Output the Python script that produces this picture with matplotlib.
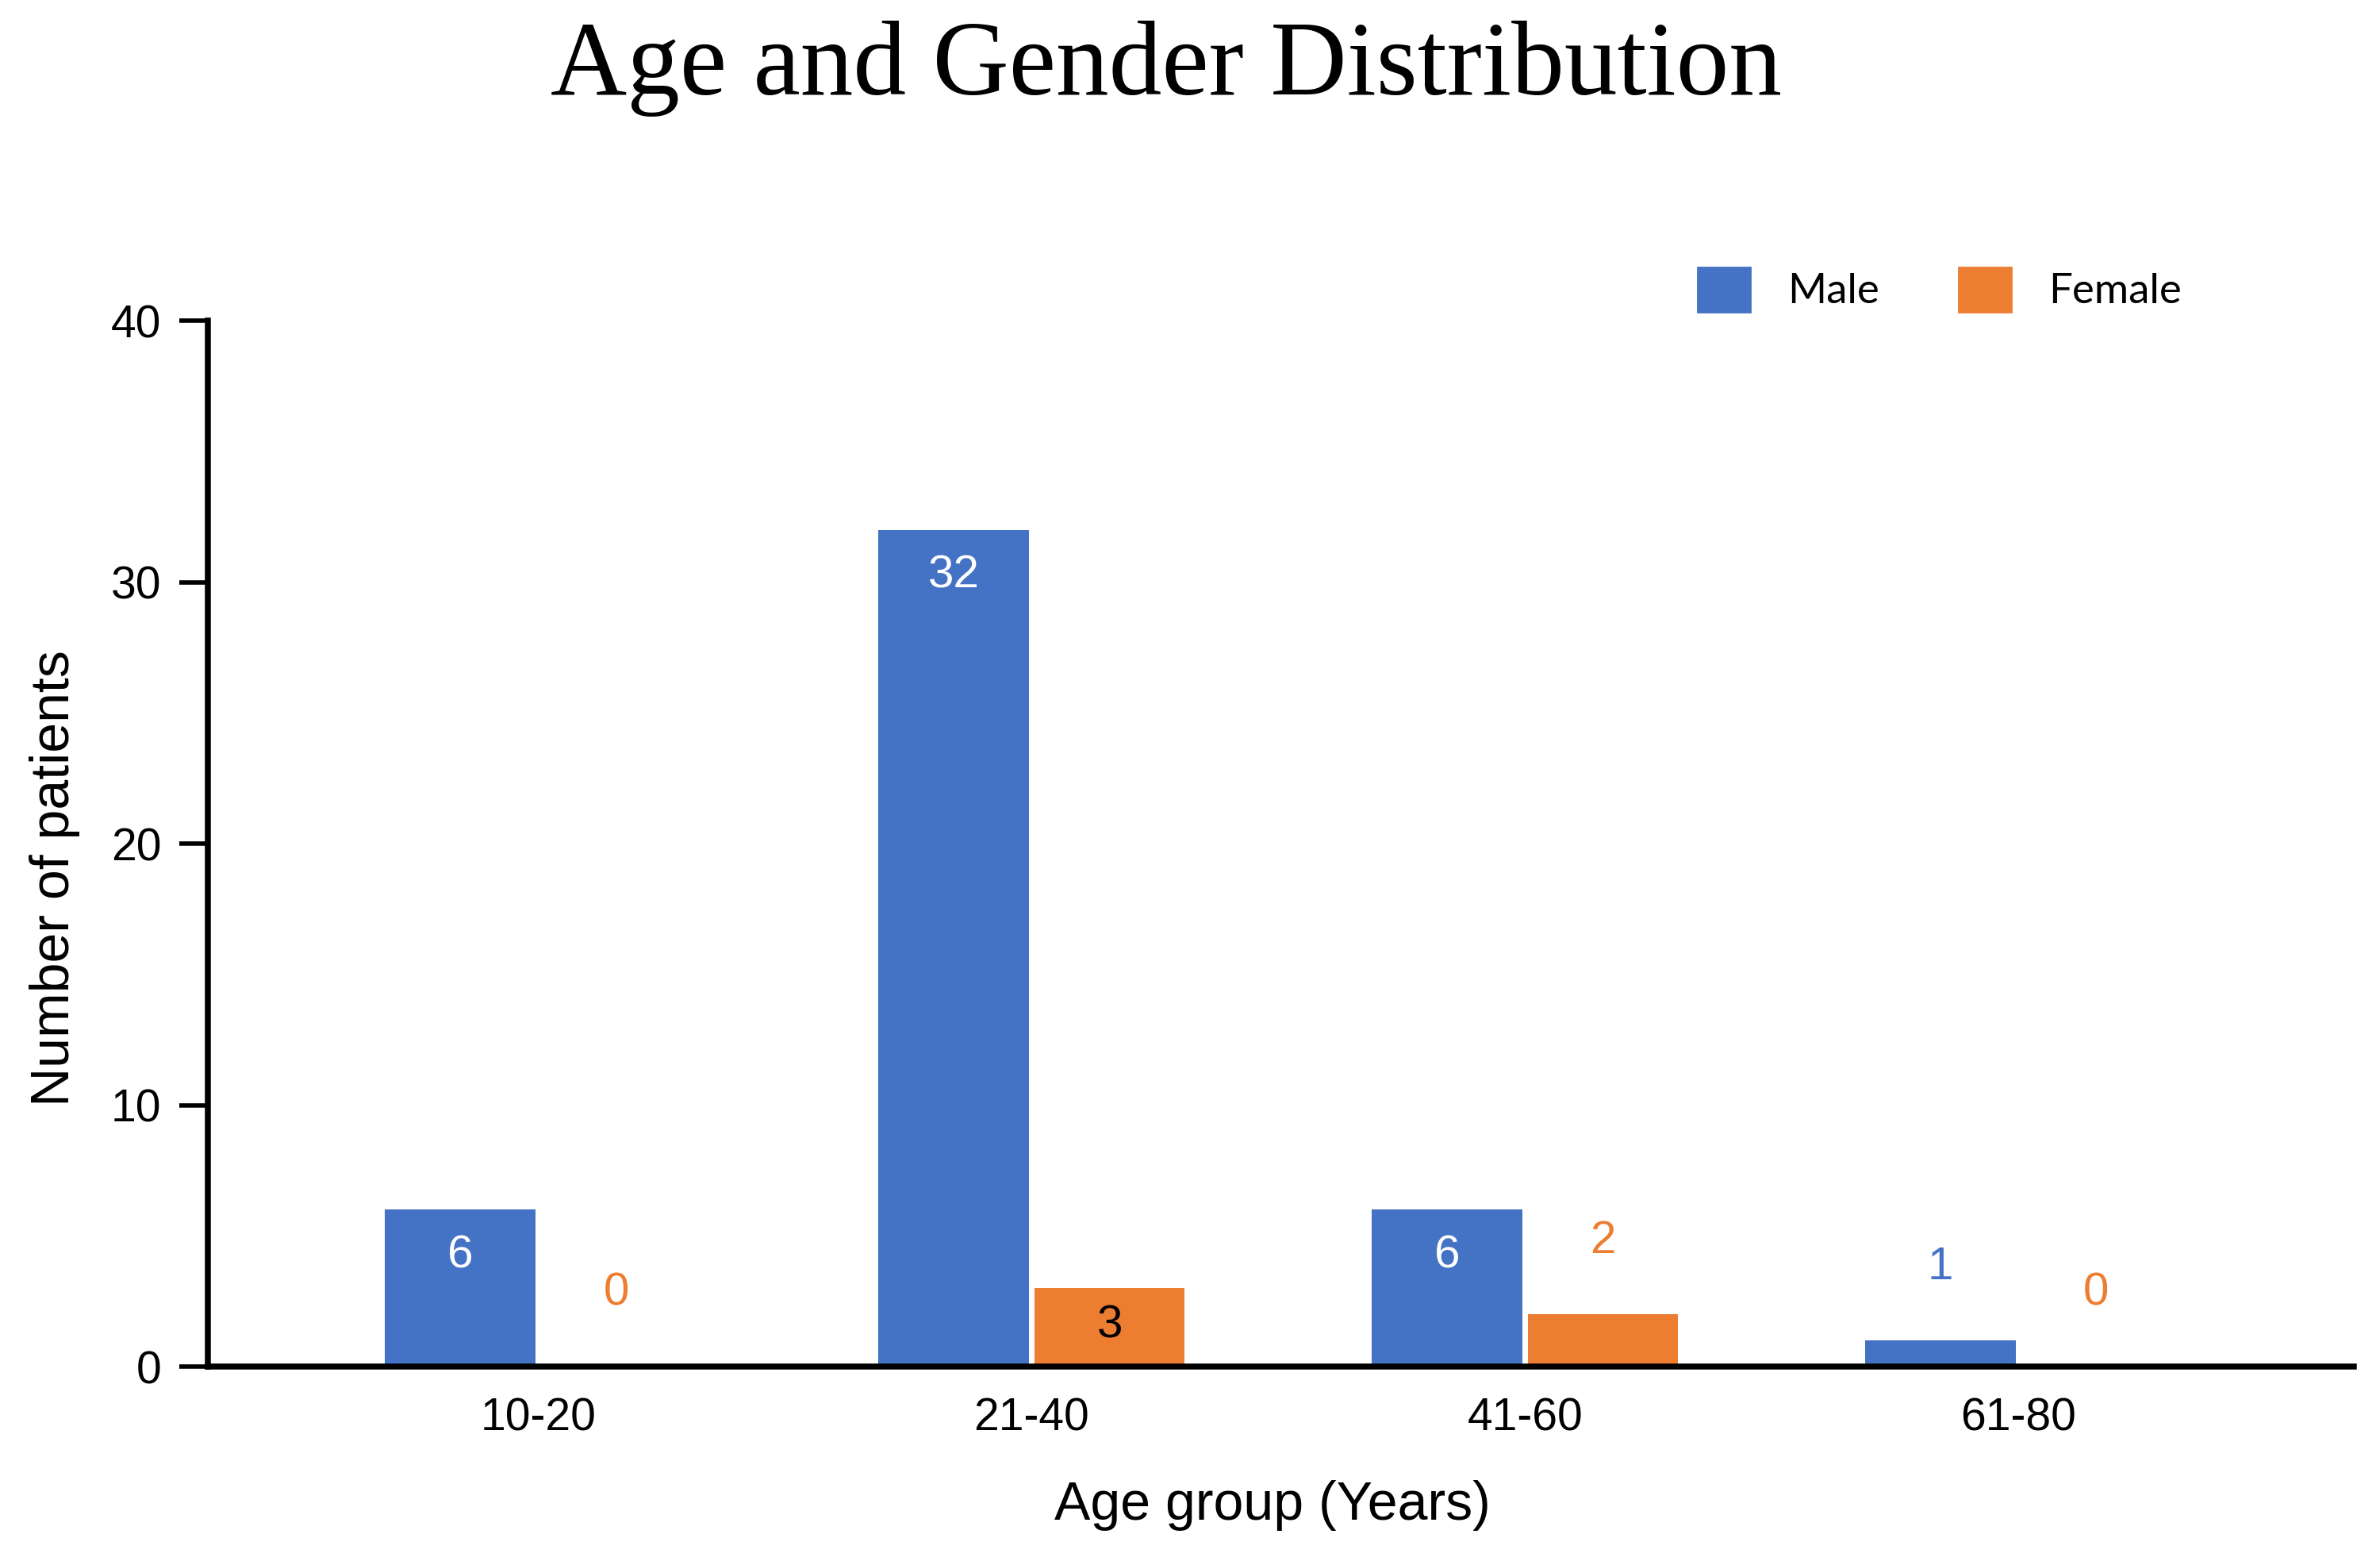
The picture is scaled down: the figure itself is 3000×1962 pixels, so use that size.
import matplotlib
matplotlib.use("Agg")
import matplotlib.pyplot as plt
import matplotlib.patches as mpatches
import numpy as np

# data
age_groups = ['10-20', '21-40', '41-60', '61-80']
male = [6, 32, 6, 1]
female = [0, 3, 2, 0]

blue = '#4472C4'
orange = '#ED7D31'

plt.rcParams['font.family'] = ['Liberation Sans', 'DejaVu Sans']

fig = plt.figure(figsize=(15, 9.81), dpi=200)
ax = fig.add_axes([0.0873, 0.1223, 0.9017, 0.6717])

x = np.arange(len(age_groups))
w = 0.305
ax.bar(x - 0.158, male, w, color=blue, zorder=2)
ax.bar(x + 0.158, female, w, color=orange, zorder=2)

# value labels: inside the bar when tall enough, above it otherwise
fs_val = 21
for xi, v in zip(x - 0.158, male):
    if v >= 5:
        ax.text(xi, v - 1.75, str(v), ha='center', va='center', color='white', fontsize=fs_val)
    else:
        ax.text(xi, v + 2.8, str(v), ha='center', va='center', color=blue, fontsize=fs_val)
for xi, v in zip(x + 0.158, female):
    if v >= 3:
        ax.text(xi, v - 1.45, str(v), ha='center', va='center', color='black', fontsize=fs_val)
    else:
        ax.text(xi, v + 2.8, str(v), ha='center', va='center', color=orange, fontsize=fs_val)

ax.set_xlim(-0.67, 3.68)
ax.set_ylim(0, 40)
ax.set_yticks([0, 10, 20, 30, 40])
ax.set_xticks(x)
ax.set_xticklabels(age_groups)
ax.tick_params(axis='y', length=13, width=2, labelsize=20.5, pad=8)
ax.tick_params(axis='x', length=0, labelsize=20.5, pad=14)

for s in ['top', 'right']:
    ax.spines[s].set_visible(False)
ax.spines['left'].set_linewidth(2.7)
ax.spines['bottom'].set_linewidth(2.7)
ax.spines['left'].set_zorder(3)
ax.spines['bottom'].set_zorder(3)

ax.set_ylabel('Number of patients', fontsize=24.5, labelpad=14, y=0.467)
ax.set_xlabel('Age group (Years)', fontsize=24.5, labelpad=18, x=0.496)

handles = [mpatches.Patch(color=blue, label='Male'),
           mpatches.Patch(color=orange, label='Female')]
ax.legend(handles=handles, loc='center', bbox_to_anchor=(0.807, 1.03), ncol=2,
          frameon=False, prop={'family': ['Lato', 'DejaVu Sans'], 'size': 19},
          handlelength=1.25, handleheight=1.25, handletextpad=0.9, columnspacing=1.9)

fig.text(0.49, 0.956, 'Age and Gender Distribution', ha='center', va='center',
         fontsize=48, family=['Liberation Serif', 'DejaVu Serif'])

fig.savefig('out.png', dpi=200, facecolor='white')
